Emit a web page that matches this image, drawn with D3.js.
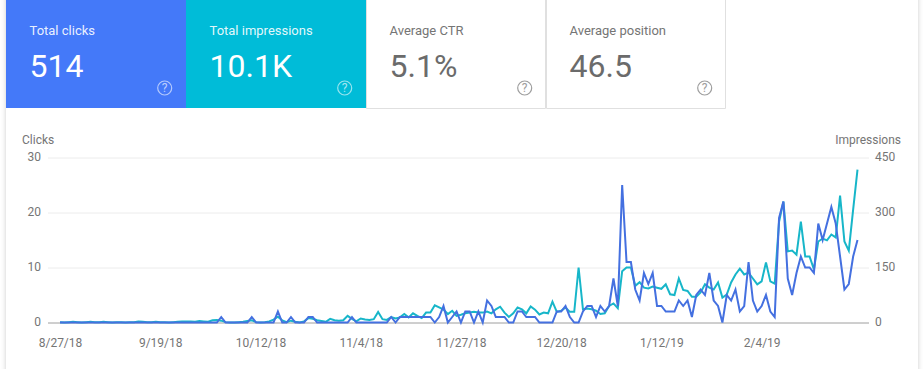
<!DOCTYPE html>
<html>
<head>
<meta charset="utf-8">
<script src="https://cdn.jsdelivr.net/npm/d3@7"></script>
<style>
  html, body { margin: 0; padding: 0; background: #fff; overflow: hidden; }
  svg { display: block; font-family: Roboto, sans-serif; }
  .axis text { font-size: 12px; fill: #757575; font-family: Roboto, sans-serif; }
  .axis .domain { display: none; }
</style>
</head>
<body>
<div id="visualization"></div>
<script>
// one value per day, starting 8/27/18
const startDate = "8/27/18";
const clicks = [
  0,0,0,0,0,0,0,0,0,0,
  0,0,0,0,0,0,0,0,0,0,
  0,0,0,0,0,0,0,0,0,0,
  0,0,0,0,0,0,0,1,0,0,
  0,0,0,0,1,0,0,0,0,0,
  2,0,0,1,0,0,0,1,1,0,
  0,0,0,0,0,0,0,1,0,0,
  0,0,0,0,0,0,1,0,1,1,
  1,1,1,1,1,1,0,1,3,0,
  1,2,0,2,2,0,2,0,4,3,
  1,1,1,0,0,2,2,1,1,1,
  0,0,0,0,2,2,3,1,0,0,
  2,3,3,1,3,2,3,8,3,25,
  11,11,6,4,9,7,9,3,3,2,
  2,2,4,3,4,1,5,6,5,9,
  4,3,0,5,4,6,2,3,11,4,
  2,3,5,2,1,19,22,8,5,9,
  12,10,10,9,18,15,18,21,18,12,
  6,7,12,15
];
const impressions = [
  1,0,1,2,1,0,1,2,1,1,
  2,1,0,1,1,0,1,1,3,2,
  1,1,2,1,1,0,1,2,3,3,
  3,2,4,3,2,6,7,5,1,0,
  0,1,2,4,6,1,0,1,3,8,
  16,6,1,5,2,0,3,12,10,6,
  4,2,10,6,5,6,18,10,3,11,
  8,7,9,29,9,7,15,11,14,23,
  14,25,18,12,27,27,47,41,35,23,
  32,18,21,25,27,29,27,27,30,25,
  36,43,27,15,25,41,36,25,44,35,
  22,27,25,57,29,32,41,29,29,150,
  36,38,36,32,23,25,45,52,39,140,
  150,150,100,110,95,93,98,95,92,104,
  77,75,120,89,86,70,70,82,104,95,
  90,109,68,76,109,131,147,131,136,120,
  104,112,164,112,106,275,330,194,196,185,
  275,180,180,145,221,229,224,240,232,346,
  221,196,308,417
];
const dateTicks = ["8/27/18","9/19/18","10/12/18","11/4/18","11/27/18","12/20/18","1/12/19","2/4/19"];
const clickTicks = [0, 10, 20, 30];
const impressionTicks = [0, 150, 300, 450];

const tileLabels = ["Total clicks", "Total impressions", "Average CTR", "Average position"];
const tileValues = ["514", "10.1K", "5.1%", "46.5"];

const width = 923, height = 369;
const parseDate = d3.timeParse("%-m/%-d/%y");
const start = parseDate(startDate);
const days = clicks.map((_, i) => d3.timeDay.offset(start, i));

const svg = d3.select("#visualization").append("svg")
  .attr("width", width)
  .attr("height", height);

// card with a soft edge
const defs = svg.append("defs");
const blur = defs.append("filter").attr("id", "shadow")
  .attr("x", "-5%").attr("y", "-5%").attr("width", "110%").attr("height", "110%");
blur.append("feDropShadow")
  .attr("dx", 0).attr("dy", 0).attr("stdDeviation", 2.5)
  .attr("flood-color", "#000").attr("flood-opacity", 0.2);

svg.append("rect")
  .attr("x", 6).attr("y", -20)
  .attr("width", 912).attr("height", height + 40)
  .attr("fill", "#fff")
  .attr("filter", "url(#shadow)");

// metric tiles
const tileX = d3.scaleBand().domain(d3.range(tileLabels.length)).range([6, 726]);
const tileFill = ["#4479f9", "#00bcd8", "#fff", "#fff"];

const tile = svg.append("g").selectAll("g")
  .data(tileLabels)
  .join("g")
  .attr("transform", (d, i) => `translate(${tileX(i)},0)`);

tile.append("rect")
  .attr("width", tileX.bandwidth())
  .attr("height", 108)
  .attr("fill", (d, i) => tileFill[i]);

// thin borders on the two white tiles
tile.filter((d, i) => i >= 2).append("path")
  .attr("d", `M0.5,0V108.5H${tileX.bandwidth() - 0.5}V0`)
  .attr("fill", "none")
  .attr("stroke", "#e0e0e0");

tile.append("text")
  .attr("x", 23.5).attr("y", 35)
  .style("font-size", "13px")
  .attr("fill", (d, i) => i < 2 ? "#fff" : "#757575")
  .attr("fill-opacity", (d, i) => i < 2 ? 0.9 : 1)
  .text(d => d);

tile.append("text")
  .attr("x", 23.5).attr("y", 77)
  .style("font-size", "32px")
  .style("font-weight", 400)
  .attr("fill", (d, i) => i < 2 ? "#fff" : "#6b6b6b")
  .text((d, i) => tileValues[i]);

tile.append("circle")
  .attr("cx", 158.7).attr("cy", 88).attr("r", 7)
  .attr("fill", "none")
  .attr("stroke-width", 1.2)
  .attr("stroke", (d, i) => i < 2 ? "rgba(255,255,255,0.6)" : "#9e9e9e");

tile.append("text")
  .attr("x", 158.7).attr("y", 92)
  .attr("text-anchor", "middle")
  .style("font-size", "12px")
  .attr("fill", (d, i) => i < 2 ? "rgba(255,255,255,0.65)" : "#9e9e9e")
  .text("?");

// chart
const x = d3.scaleTime().domain(d3.extent(days)).range([60, 857.5]);
const yClicks = d3.scaleLinear().domain([0, 30]).range([322.5, 157.5]);
const yImpressions = d3.scaleLinear().domain([0, 450]).range([322.5, 157.5]);

const gridLeft = 48, gridRight = 869;

const leftAxis = svg.append("g")
  .attr("class", "axis")
  .attr("transform", `translate(${gridLeft},0)`)
  .call(d3.axisLeft(yClicks).tickValues(clickTicks).tickSize(-(gridRight - gridLeft)).tickPadding(7));
leftAxis.selectAll(".tick line")
  .attr("stroke", d => d === 0 ? "#9e9e9e" : "#ececec");
leftAxis.selectAll(".tick text").attr("dy", "0.26em");

const rightAxis = svg.append("g")
  .attr("class", "axis")
  .attr("transform", `translate(${gridRight},0)`)
  .call(d3.axisRight(yImpressions).tickValues(impressionTicks).tickSize(0).tickPadding(6));
rightAxis.selectAll(".tick text").attr("dy", "0.26em");

svg.append("g")
  .attr("class", "axis")
  .attr("transform", "translate(0,322.5)")
  .call(d3.axisBottom(x).tickValues(dateTicks.map(parseDate)).tickFormat((d, i) => dateTicks[i]).tickSize(0).tickPadding(16));

svg.append("text")
  .attr("x", 22).attr("y", 144)
  .style("font-size", "12px")
  .attr("fill", "#757575")
  .text("Clicks");

svg.append("text")
  .attr("x", 901).attr("y", 144)
  .attr("text-anchor", "end")
  .style("font-size", "12px")
  .attr("fill", "#757575")
  .text("Impressions");

const lineImpressions = d3.line().x((d, i) => x(days[i])).y(d => yImpressions(d));
const lineClicks = d3.line().x((d, i) => x(days[i])).y(d => yClicks(d));

svg.append("path")
  .datum(impressions)
  .attr("fill", "none")
  .attr("stroke", "#17b6c9")
  .attr("stroke-width", 2)
  .attr("d", lineImpressions);

svg.append("path")
  .datum(clicks)
  .attr("fill", "none")
  .attr("stroke", "#4470e0")
  .attr("stroke-width", 2)
  .attr("d", lineClicks);
</script>
</body>
</html>
